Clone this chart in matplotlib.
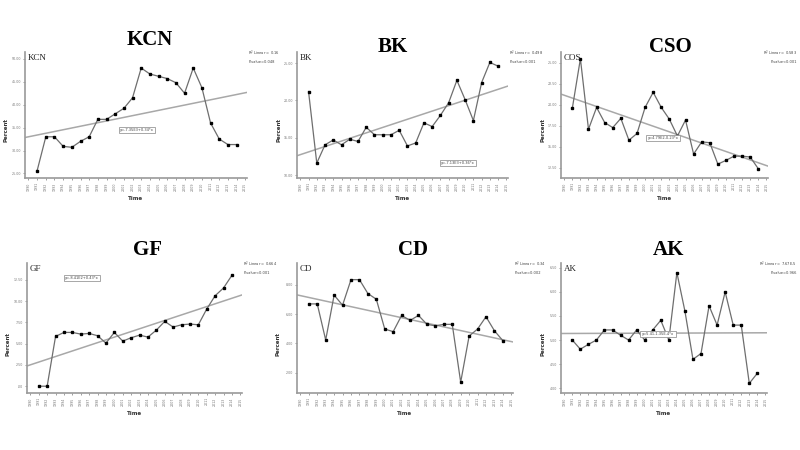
import numpy as np
import matplotlib
matplotlib.use("Agg")
import matplotlib.pyplot as plt

years = list(range(1991, 2015))
tick_years = list(range(1990, 2016))

kcn = [25.6, 33.0, 33.0, 30.9, 30.7, 32.0, 33.0, 36.8, 36.8, 38.0, 39.2, 41.5,
       48.0, 46.7, 46.2, 45.7, 44.8, 42.5, 48.0, 43.7, 36.0, 32.5, 31.3, 31.3]
bk = [21.2, 11.6, 14.05, 14.7, 14.05, 14.8, 14.5, 16.4, 15.4, 15.4, 15.4, 16.0,
      13.9, 14.3, 17.0, 16.5, 18.0, 19.7, 22.7, 20.1, 17.3, 22.4, 25.1, 24.6]
cso = [19.6, 25.5, 17.1, 19.7, 17.9, 17.3, 18.4, 15.8, 16.6, 19.7, 21.5, 19.7,
       18.3, 16.3, 18.2, 14.15, 15.6, 15.5, 12.95, 13.4, 13.9, 13.9, 13.8, 12.4]
gf = [0.0, 0.0, 5.86, 6.33, 6.33, 6.13, 6.21, 5.94, 5.07, 6.33, 5.31, 5.70,
      6.01, 5.78, 6.60, 7.63, 6.96, 7.23, 7.31, 7.23, 9.08, 10.65, 11.56, 13.05]
cd = [6.70, 6.70, 4.23, 7.30, 6.61, 8.36, 8.36, 7.41, 7.02, 4.98, 4.80, 5.91,
      5.57, 5.91, 5.30, 5.20, 5.30, 5.30, 1.34, 4.50, 4.98, 5.82, 4.86, 4.18]
ak = [5.00, 4.81, 4.91, 5.00, 5.21, 5.21, 5.10, 5.00, 5.21, 5.00, 5.21, 5.41,
      5.00, 6.40, 5.60, 4.60, 4.72, 5.71, 5.31, 6.00, 5.31, 5.31, 4.10, 4.31]

titles = ["KCN", "BK", "CSO", "GF", "CD", "AK"]
inner_labels = ["KCN", "BK", "COS", "GF", "CD", "AK"]
series = [kcn, bk, cso, gf, cd, ak]
yticks = [[25, 30, 35, 40, 45, 50], [10, 15, 20, 25], [12.5, 15, 17.5, 20, 22.5, 25],
          [0, 2.5, 5, 7.5, 10, 12.5], [2, 4, 6, 8], [4, 4.5, 5, 5.5, 6, 6.5]]
ylims = [(24, 51.5), (9.6, 26.5), (11.3, 26.3), (-0.8, 14.5), (0.6, 9.5), (3.9, 6.6)]
r2_text = ["R$^2$ Linear = 0.16", "R$^2$ Linear = 0.498", "R$^2$ Linear = 0.583",
           "R$^2$ Linear = 0.664", "R$^2$ Linear = 0.34", "R$^2$ Linear = 7.67E-5"]
p_text = ["P-value=0.048", "P-value<0.001", "P-value<0.001",
          "P-value<0.001", "P-value=0.002", "P-value=0.966"]
eq_text = ["y=-7.35E3+0.34*x", "y=-7.13E3+0.36*x", "y=4.79E2-0.23*x",
           "y=-8.41E2+0.43*x", None, "y=5.41-1.35E-4*x"]

# layout in pixels (left, right, top, bottom)
boxes = [(25, 247, 52, 178), (297, 508, 52, 178), (561, 768, 52, 178),
         (27, 242, 263, 393), (297, 513, 263, 393), (561, 767, 263, 393)]
title_pos = [(150, 40), (393, 47), (670, 47), (147, 250), (413, 250), (668, 250)]
eq_pos = [(137, 130), (458, 163), (663, 138), (82, 278), None, (658, 334)]

W, H = 800, 450
fig = plt.figure(figsize=(8, 4.5), dpi=100)
fig.patch.set_facecolor("white")

serif = "Liberation Serif"
grey_line = "#6e6e6e"
fit_col = "#a8a8a8"

for i in range(6):
    l, r, t, b = boxes[i]
    ax = fig.add_axes([l / W, 1 - b / H, (r - l) / W, (b - t) / H])
    vals = series[i]
    coef = np.polyfit(years, vals, 1)
    xl = (1989.6, 2015.2)
    xx = np.array(xl)
    ax.plot(xx, np.polyval(coef, xx), color=fit_col, lw=1.1, zorder=1)
    ax.plot(years, vals, color=grey_line, lw=0.9, marker="s", ms=1.8,
            mfc="black", mec="black", zorder=2)
    ax.set_xlim(*xl)
    ax.set_ylim(*ylims[i])
    ax.set_xticks(tick_years)
    ax.set_xticklabels([str(y) for y in tick_years], rotation=90, fontsize=2.3,
                       color="#555555")
    ax.set_yticks(yticks[i])
    ax.set_yticklabels(["%.2f" % v if v != 0 else ".00" for v in yticks[i]],
                       fontsize=2.3, color="#555555")
    ax.tick_params(length=1.5, width=0.5, colors="#777777", pad=1.5)
    for s in ["top", "right"]:
        ax.spines[s].set_visible(False)
    for s in ["left", "bottom"]:
        ax.spines[s].set_color("#9a9a9a")
        ax.spines[s].set_linewidth(1.2)
    ax.set_xlabel("Time", fontsize=4, fontweight="bold", labelpad=4, color="#333333")
    ax.set_ylabel("Percent", fontsize=4, fontweight="bold", labelpad=5, color="#333333")
    ax.yaxis.set_label_coords(-0.075, 0.38)
    ax.text(0.012, 0.985, inner_labels[i], transform=ax.transAxes, ha="left", va="top",
            fontsize=6.5, family=serif, color="#222222")
    # titles
    tx, ty = title_pos[i]
    fig.text(tx / W, 1 - ty / H, titles[i], ha="center", va="center",
             fontsize=15, fontweight="bold", family=serif)
    # R2 and p-value texts (kept inside the figure on the right column)
    if r + 40 > W:
        fig.text(797 / W, 1 - (t + 1) / H, r2_text[i], ha="right", va="center",
                 fontsize=2.6, color="#444444")
        fig.text(797 / W, 1 - (t + 10) / H, p_text[i], ha="right", va="center",
                 fontsize=2.6, color="#444444")
    else:
        fig.text((r + 1) / W, 1 - (t + 1) / H, r2_text[i], ha="left", va="center",
                 fontsize=2.6, color="#444444")
        fig.text((r + 2) / W, 1 - (t + 10) / H, p_text[i], ha="left", va="center",
                 fontsize=2.6, color="#444444")
    if eq_text[i] is not None:
        ex, ey = eq_pos[i]
        fig.text(ex / W, 1 - ey / H, eq_text[i], ha="center", va="center",
                 fontsize=2.6, color="#444444",
                 bbox=dict(boxstyle="square,pad=0.4", fc="white", ec="#999999", lw=0.6))

fig.savefig("out.png", dpi=100, facecolor="white")
